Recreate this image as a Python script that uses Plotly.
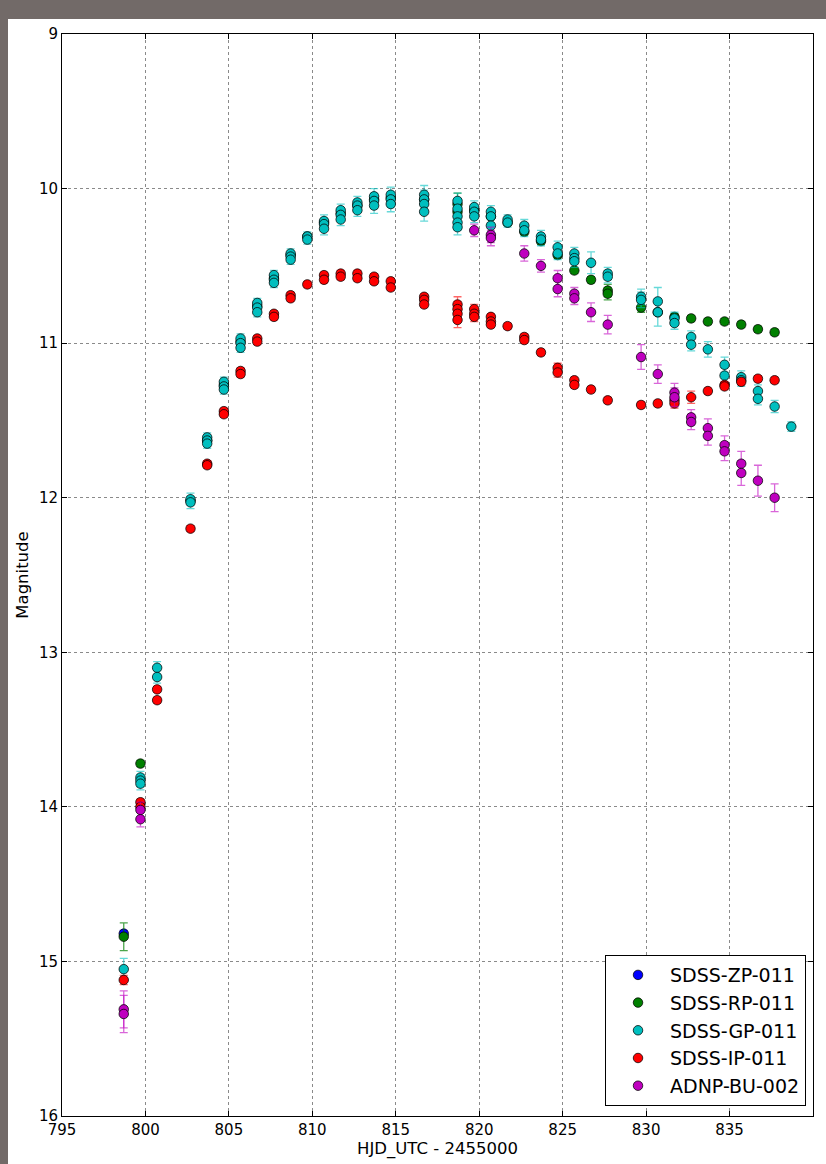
import plotly.graph_objects as go

# ---------------- data (HJD - 2455000, magnitude) ----------------
zp_nights = [798.7]
zp_mags = [[14.82]]
zp_errs = [0.02]

rp_nights = [798.7, 799.7, 802.7, 803.7, 804.7, 805.7, 806.7, 807.7, 808.7, 809.7,
             810.7, 811.7, 812.7, 813.7, 814.7, 816.7, 818.7, 819.7, 820.7, 821.7,
             822.7, 823.7, 824.7, 825.7, 826.7, 827.7, 829.7, 830.7, 831.7, 832.7,
             833.7, 834.7, 835.7, 836.7, 837.7]
rp_mags = [[14.84], [13.72], [12.02], [11.63], [11.27], [10.99], [10.76], [10.58], [10.43], [10.31],
           [10.22], [10.16], [10.11], [10.07], [10.06], [10.07], [10.10, 10.15], [10.14], [10.18], [10.22],
           [10.28], [10.34], [10.43], [10.53], [10.59], [10.66, 10.68], [10.77], [10.80], [10.83], [10.84],
           [10.86], [10.86], [10.88], [10.91], [10.93]]
rp_errs = [0.09, 0.02, 0.02, 0.02, 0.02, 0.02, 0.02, 0.02, 0.02, 0.02,
           0.02, 0.02, 0.02, 0.02, 0.02, 0.02, 0.07, 0.02, 0.02, 0.02,
           0.02, 0.02, 0.02, 0.02, 0.02, 0.04, 0.03, 0.02, 0.02, 0.02,
           0.02, 0.02, 0.02, 0.02, 0.02]

gp_nights = [798.7, 799.7, 800.7, 802.7, 803.7, 804.7, 805.7, 806.7, 807.7, 808.7,
             809.7, 810.7, 811.7, 812.7, 813.7, 814.7, 816.7, 818.7, 819.7, 820.7,
             821.7, 822.7, 823.7, 824.7, 825.7, 826.7, 827.7, 829.7, 830.7, 831.7,
             832.7, 833.7, 834.7, 835.7, 836.7, 837.7, 838.7]
gp_mags = [[15.05], [13.81, 13.83, 13.85], [13.10, 13.16], [12.01, 12.03], [11.61, 11.63, 11.65],
           [11.25, 11.28, 11.30], [10.97, 11.00, 11.03], [10.74, 10.77, 10.80], [10.56, 10.59, 10.61],
           [10.42, 10.44, 10.46], [10.31, 10.33], [10.21, 10.23, 10.26], [10.14, 10.17, 10.20],
           [10.09, 10.11, 10.14], [10.05, 10.08, 10.11], [10.04, 10.07, 10.10],
           [10.04, 10.07, 10.10, 10.15], [10.08, 10.13, 10.18, 10.22, 10.25], [10.12, 10.15, 10.18],
           [10.15, 10.18, 10.24], [10.20, 10.22], [10.24, 10.27], [10.31, 10.33], [10.38, 10.42],
           [10.42, 10.45, 10.47], [10.48], [10.55, 10.57], [10.70, 10.72], [10.73, 10.80],
           [10.84, 10.87], [10.96, 11.01], [11.04], [11.14, 11.21], [11.22, 11.24], [11.31, 11.36],
           [11.41], [11.54]]
gp_errs = [0.07, 0.04, 0.04, 0.04, 0.03, 0.03, 0.03, 0.03, 0.03, 0.03,
           0.03, 0.04, 0.04, 0.04, 0.05, 0.05, 0.06, 0.05, 0.04, 0.04,
           0.03, 0.04, 0.04, 0.04, 0.04, 0.07, 0.04, 0.05, 0.09, 0.04,
           0.04, 0.05, 0.05, 0.04, 0.04, 0.04, 0.03]

ip_nights = [798.7, 799.7, 800.7, 802.7, 803.7, 804.7, 805.7, 806.7, 807.7, 808.7,
             809.7, 810.7, 811.7, 812.7, 813.7, 814.7, 816.7, 818.7, 819.7, 820.7,
             821.7, 822.7, 823.7, 824.7, 825.7, 826.7, 827.7, 829.7, 830.7, 831.7,
             832.7, 833.7, 834.7, 835.7, 836.7, 837.7]
ip_mags = [[15.12], [13.97, 14.00], [13.24, 13.31], [12.20], [11.78, 11.79], [11.44, 11.46],
           [11.18, 11.20], [10.97, 10.99], [10.81, 10.83], [10.69, 10.71], [10.62], [10.56, 10.59],
           [10.55, 10.57], [10.55, 10.58], [10.57, 10.60], [10.60, 10.64], [10.70, 10.72, 10.75],
           [10.75, 10.78, 10.81, 10.85], [10.78, 10.81, 10.83], [10.83, 10.86, 10.88], [10.89],
           [10.96, 10.98], [11.06], [11.16, 11.19], [11.24, 11.27], [11.30], [11.37], [11.40],
           [11.39], [11.37, 11.39], [11.35], [11.31], [11.27, 11.28], [11.25], [11.23], [11.24]]
ip_errs = [0.03, 0.02, 0.02, 0.02, 0.02, 0.02, 0.02, 0.02, 0.02, 0.02,
           0.02, 0.02, 0.02, 0.02, 0.02, 0.02, 0.02, 0.05, 0.03, 0.02,
           0.02, 0.02, 0.02, 0.03, 0.02, 0.02, 0.02, 0.02, 0.02, 0.03,
           0.04, 0.02, 0.02, 0.02, 0.02, 0.02]

bu_nights = [798.7, 799.7, 819.7, 820.7, 822.7, 823.7, 824.7, 825.7, 826.7, 827.7,
             829.7, 830.7, 831.7, 832.7, 833.7, 834.7, 835.7, 836.7, 837.7]
bu_mags = [[15.31, 15.34], [14.02, 14.08], [10.27], [10.30, 10.32], [10.42], [10.50],
           [10.58, 10.65], [10.68, 10.71], [10.80], [10.88], [11.09], [11.20], [11.32, 11.35],
           [11.48, 11.51], [11.55, 11.60], [11.66, 11.70], [11.78, 11.84], [11.89], [12.00]]
bu_errs = [0.12, 0.05, 0.04, 0.05, 0.05, 0.04, 0.05, 0.04, 0.06, 0.06,
           0.08, 0.06, 0.06, 0.05, 0.06, 0.06, 0.08, 0.10, 0.09]

series = [
    ("SDSS-ZP-011", zp_nights, zp_mags, zp_errs, "#0000ff", "rgba(0,0,255,0.6)"),
    ("SDSS-RP-011", rp_nights, rp_mags, rp_errs, "#008000", "rgba(0,128,0,0.7)"),
    ("SDSS-GP-011", gp_nights, gp_mags, gp_errs, "#00bfbf", "rgba(0,191,191,0.6)"),
    ("SDSS-IP-011", ip_nights, ip_mags, ip_errs, "#ff0000", "rgba(255,0,0,0.6)"),
    ("ADNP-BU-002", bu_nights, bu_mags, bu_errs, "#bf00bf", "rgba(191,0,191,0.6)"),
]

fig = go.Figure()
for i, (name, nights, mags, errs, col, ecol) in enumerate(series):
    xs, ys, es = [], [], []
    for n, ms, e in zip(nights, mags, errs):
        for m in ms:
            xs.append(n)
            ys.append(m)
            es.append(e)
    fig.add_trace(go.Scatter(
        x=xs, y=ys, mode="markers", name=name, legendgroup=f"g{i}",
        marker=dict(color=col, size=9.5, line=dict(color="rgba(0,0,0,0.75)", width=1)),
        error_y=dict(type="data", array=es, visible=True, color=ecol, thickness=1.3, width=4),
    ))

# white figure area on the gray page
fig.add_shape(type="rect", xref="paper", yref="paper", x0=-0.0719, x1=1.1, y0=-0.1, y1=1.0139,
              fillcolor="white", line=dict(width=0), layer="below")

axis_common = dict(
    showline=True, linecolor="black", linewidth=1, mirror="ticks",
    ticks="inside", ticklen=5, tickcolor="black", tickwidth=1,
    showgrid=True, gridcolor="#8a8a8a", griddash="dot", gridwidth=1,
    zeroline=False,
    tickfont=dict(family="DejaVu Sans", size=15, color="black"),
)

fig.update_xaxes(range=[795, 840], tick0=795, dtick=5,
                 title=dict(text="HJD_UTC - 2455000", standoff=2,
                            font=dict(family="DejaVu Sans", size=16.5, color="black")),
                 **axis_common)
fig.update_yaxes(range=[16, 9], tick0=9, dtick=1,
                 title=dict(text="Magnitude", standoff=6,
                            font=dict(family="DejaVu Sans", size=16.5, color="black")),
                 **axis_common)

fig.update_layout(
    width=826, height=1164,
    margin=dict(l=62, r=13, t=34, b=48, autoexpand=False),
    paper_bgcolor="#726a68", plot_bgcolor="white",
    font=dict(family="DejaVu Sans", color="black"),
    showlegend=True,
    legend=dict(
        x=0.9907, y=0.0092, xanchor="right", yanchor="bottom",
        bgcolor="white", bordercolor="black", borderwidth=1,
        font=dict(family="DejaVu Sans", size=19, color="black"),
        tracegroupgap=0, itemwidth=54,
    ),
)

fig.write_html("out.html", config={"displayModeBar": False},
               post_script="document.body.style.margin='0';document.body.style.overflow='hidden';")
